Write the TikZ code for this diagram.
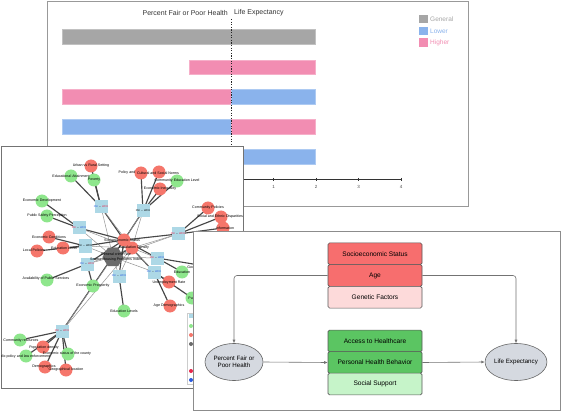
\documentclass[tikz,border=0pt]{standalone}
\usepackage{fontspec}
\setmainfont{Liberation Sans}
\usetikzlibrary{arrows.meta,shapes.geometric}
\definecolor{gbar}{HTML}{A6A6A6}
\definecolor{pbar}{HTML}{F28DB2}
\definecolor{bbar}{HTML}{8AB3EC}
\definecolor{ngreen}{HTML}{8EE68C}
\definecolor{nred}{HTML}{F5766B}
\definecolor{nblue}{HTML}{ADD8E6}
\definecolor{ngray}{HTML}{6B6B6B}
\definecolor{redbox}{HTML}{F76E6E}
\definecolor{pinkbox}{HTML}{FDDADA}
\definecolor{greenbox}{HTML}{5BC562}
\definecolor{lgreenbox}{HTML}{C6F4C9}
\definecolor{ellfill}{HTML}{D5D9E0}
\definecolor{peired}{HTML}{E8264B}
\definecolor{peiblue}{HTML}{2B5BE0}
\begin{document}
\begin{tikzpicture}[x=1pt,y=-1pt,
  panel/.style={draw=black!45, line width=0.8pt, fill=white},
  gnode/.style={circle, fill=ngreen, inner sep=0pt, minimum size=13pt},
  rnode/.style={circle, fill=nred, inner sep=0pt, minimum size=13pt},
  sqnode/.style={rectangle, fill=nblue, inner sep=0pt, minimum size=13pt},
  lab/.style={font=\fontsize{3.6}{4.2}\selectfont, text=black, inner sep=0pt, align=center},
  sqlab/.style={font=\fontsize{2.6}{3}\selectfont, inner sep=0pt},
  edge/.style={draw=black!72, line width=1.15pt},
  thinedge/.style={draw=black!42, line width=0.5pt},
  bartxt/.style={font=\fontsize{7}{8}\selectfont, text=black!80, inner sep=0pt},
  legtxt/.style={font=\fontsize{6.5}{7.5}\selectfont, inner sep=0pt, anchor=west},
  ticklab/.style={font=\fontsize{4.5}{5}\selectfont, text=black!70, inner sep=0pt},
  dagbox/.style={draw=black!65, line width=0.6pt, rounded corners=1.5pt, minimum width=94pt, minimum height=21.7pt, inner sep=0pt, font=\fontsize{6.6}{7.5}\selectfont},
  dagell/.style={ellipse, draw=black!60, line width=0.6pt, fill=ellfill, minimum width=58pt, minimum height=37pt, inner sep=0pt, align=center, font=\fontsize{6.2}{7.2}\selectfont},
  arr/.style={draw=black!55, line width=0.6pt, rounded corners=3pt, -{Latex[length=3.5pt,width=3pt]}}
]
\useasboundingbox (0,0) rectangle (561,411);

% ================= Chart panel =================
\draw[panel, draw=black!40] (47,1) rectangle (468,206);
\node[bartxt, anchor=east] (ttl1) at (228,13) {Percent Fair or Poor Health};
\node[bartxt, anchor=west] (ttl2) at (234,13) {Life Expectancy};
\filldraw[fill=gbar, draw=gbar!70!white, line width=0.4pt] (62,29) rectangle (315,44);
\filldraw[fill=pbar, draw=pbar!70!white, line width=0.4pt] (189,60) rectangle (315,74);
\filldraw[fill=pbar, draw=pbar!70!white, line width=0.4pt] (62,89) rectangle (231,104);
\filldraw[fill=bbar, draw=bbar!70!white, line width=0.4pt] (231,89) rectangle (315,104);
\filldraw[fill=bbar, draw=bbar!70!white, line width=0.4pt] (62,119) rectangle (231,134);
\filldraw[fill=pbar, draw=pbar!70!white, line width=0.4pt] (231,119) rectangle (315,134);
\filldraw[fill=bbar, draw=bbar!70!white, line width=0.4pt] (62,149) rectangle (315,164);
\draw[black!85, line width=0.9pt, dash pattern=on 1.3pt off 1.3pt] (231,19) -- (231,179);
\draw[black!80, line width=0.7pt] (62,179) -- (401,179);
\foreach \k in {1,...,4} {
  \draw[black!80, line width=0.6pt] (231+42.5*\k,178) -- ++(0,3.5);
  \node[ticklab] (tk\k) at (231+42.5*\k,186.5) {\k};
}
\fill[gbar] (419,15) rectangle (428,23);
\fill[bbar] (419,27) rectangle (428,35);
\fill[pbar] (419,38.5) rectangle (428,47);
\node[legtxt, text=gbar] (lg1) at (430,19) {General};
\node[legtxt, text=bbar] (lg2) at (430,31) {Lower};
\node[legtxt, text=pbar] (lg3) at (430,43) {Higher};

% ================= Network panel =================
\draw[panel, draw=black!55, line width=0.9pt] (1,146) rectangle (243,388);
\begin{scope}
\clip (1.5,146.5) rectangle (242.5,387.5);
% hubs
\coordinate (ses) at (124,240);
\coordinate (pd) at (132,248);
\coordinate (gc) at (113,257);
% squares
\coordinate (s1) at (101,207);
\coordinate (s2) at (143,211);
\coordinate (s3) at (79,228);
\coordinate (s4) at (85,246);
\coordinate (s5) at (178,234);
\coordinate (s6) at (87,264);
\coordinate (s7) at (119,276);
\coordinate (s8) at (157,258);
\coordinate (s9) at (154,272);
\coordinate (s10) at (62,331);
% leaves
\coordinate (urban) at (91,166);
\coordinate (eduatt) at (71,176);
\coordinate (poverty) at (94,180);
\coordinate (policy) at (141,173);
\coordinate (cultural) at (159,172);
\coordinate (commedu) at (177,181);
\coordinate (econineq) at (160,189);
\coordinate (econdev) at (42,201);
\coordinate (pubsafe) at (47,216);
\coordinate (econcond) at (49,237);
\coordinate (localpol) at (37,251);
\coordinate (edulevel) at (63,248);
\coordinate (commpol) at (208,208);
\coordinate (socialeth) at (221,217);
\coordinate (info) at (223,228);
\coordinate (availps) at (47,280);
\coordinate (econprosp) at (93,286);
\coordinate (edulevels) at (124,311);
\coordinate (education) at (182,272);
\coordinate (gov) at (205,266);
\coordinate (unemp) at (169,282);
\coordinate (agedem) at (170,306);
\coordinate (pubpol) at (192,298);
\coordinate (commres) at (20,340);
\coordinate (popdens) at (43,347);
\coordinate (publaw) at (26,356);
\coordinate (econstat) at (68,354);
\coordinate (demog) at (45,367);
\coordinate (geoloc) at (66,370);
% edges square -> hubs
\foreach \s in {s1,s2,s3,s4,s5,s6,s7,s8,s9,s10} {
  \draw[edge] (\s) -- (ses);
  \draw[thinedge] (\s) -- (pd);
  \draw[thinedge] (\s) -- (gc);
}
\draw[edge] (ses) -- (pd);
\draw[edge] (pd) -- (gc);
% edges square -> leaves
\foreach \a/\b in {s1/urban,s1/eduatt,s1/poverty,s2/policy,s2/cultural,s2/commedu,s2/econineq,
  s3/econdev,s3/pubsafe,s4/econcond,s4/localpol,s4/edulevel,s5/commpol,s5/socialeth,s5/info,
  s6/availps,s6/econprosp,s7/edulevels,s8/education,s8/gov,s9/unemp,s9/agedem,s9/pubpol,
  s10/commres,s10/popdens,s10/publaw,s10/econstat,s10/demog,s10/geoloc} {
  \draw[edge] (\a) -- (\b);
}
% nodes
\node[sqnode] (n-s1) at (s1) {};
\node[sqnode] (n-s2) at (s2) {};
\node[sqnode] (n-s3) at (s3) {};
\node[sqnode] (n-s4) at (s4) {};
\node[sqnode] (n-s5) at (s5) {};
\node[sqnode] (n-s6) at (s6) {};
\node[sqnode] (n-s7) at (s7) {};
\node[sqnode] (n-s8) at (s8) {};
\node[sqnode] (n-s9) at (s9) {};
\node[sqnode] (n-s10) at (s10) {};
\node[rnode] (n-ses) at (ses) {};
\node[rnode] (n-pd) at (pd) {};
\node[regular polygon, regular polygon sides=6, fill=ngray, inner sep=0pt, minimum size=21pt] (n-gc) at (gc) {};
\foreach \n in {urban,policy,cultural,econineq,econcond,localpol,edulevel,commpol,socialeth,info,unemp,agedem,popdens,demog,geoloc} {
  \node[rnode] (n-\n) at (\n) {};
}
\foreach \n in {eduatt,poverty,commedu,econdev,pubsafe,availps,econprosp,edulevels,education,gov,pubpol,commres,publaw,econstat} {
  \node[gnode] (n-\n) at (\n) {};
}
% square labels
\node[sqlab] (q1) at (s1) {\textcolor{peiblue}{PEI} ↔ \textcolor{peired}{WCR}};
\node[sqlab] (q2) at (s2) {PEI ↔ WCR};
\node[sqlab] (q3) at (s3) {\textcolor{peired}{PEI} ↔ \textcolor{peiblue}{WCR}};
\node[sqlab] (q4) at (s4) {PEI ↔ WCR};
\node[sqlab] (q5) at (s5) {\textcolor{peired}{PEI} ↔ \textcolor{peired}{WCR}};
\node[sqlab] (q6) at (s6) {\textcolor{peiblue}{PEI} ↔ \textcolor{peired}{WCR}};
\node[sqlab] (q7) at (s7) {\textcolor{peiblue}{PEI} ↔ \textcolor{peiblue}{WCR}};
\node[sqlab] (q8) at (s8) {\textcolor{peired}{PEI} ↔ \textcolor{peiblue}{WCR}};
\node[sqlab] (q9) at (s9) {\textcolor{peiblue}{PEI} ↔ \textcolor{peiblue}{WCR}};
\node[sqlab] (q10) at (s10) {\textcolor{peired}{PEI} ↔ \textcolor{peired}{WCR}};
% leaf labels
\node[lab] (l-urban) at (91,166) {Urban vs Rural Setting};
\node[lab] (l-eduatt) at (71,176) {Educational Attainment};
\node[lab] (l-poverty) at (94,180) {Poverty};
\node[lab] (l-policy) at (127,173) {Policy and};
\node[lab] (l-cultural) at (158,173) {Cultural and Social Norms};
\node[lab] (l-commedu) at (177,181) {Community Education Level};
\node[lab] (l-econineq) at (160,189) {Economic Inequality};
\node[lab] (l-econdev) at (42,201) {Economic Development};
\node[lab] (l-pubsafe) at (47,215.5) {Public Safety Perception};
\node[lab] (l-econcond) at (49,237) {Economic Conditions};
\node[lab] (l-localpol) at (34,250) {Local Policies};
\node[lab] (l-edulevel) at (64,248) {Education Level};
\node[lab] (l-commpol) at (208,208) {Community Policies};
\node[lab] (l-socialeth) at (220,217) {Social and Ethnic Disparities};
\node[lab] (l-info) at (225,228) {Information};
\node[lab] (l-ses) at (122,240) {Socioeconomic Status};
\node[lab] (l-pd) at (134,248) {Population Density};
\node[lab] (l-gc) at (116,257) {General crime rate\\Severe Housing Problems Index};
\node[lab] (l-availps) at (46,279) {Availability of Public Services};
\node[lab] (l-econprosp) at (93,286) {Economic Prosperity};
\node[lab] (l-edulevels) at (124,311) {Education Levels};
\node[lab] (l-education) at (182,272) {Education};
\node[lab] (l-gov) at (204,267) {Government Policies};
\node[lab] (l-unemp) at (169,283) {Unemployment Rate};
\node[lab] (l-agedem) at (169,306) {Age Demographics};
\node[lab] (l-pubpol) at (200,298) {Public Policies};
\node[lab] (l-commres) at (21,341) {Community resources};
\node[lab] (l-popdens) at (44,347.5) {Population density};
\node[lab] (l-publaw) at (23,356.5) {Public policy and law enforcement};
\node[lab] (l-econstat) at (67,354) {Economic status of the county};
\node[lab] (l-demog) at (44,367) {Demographics};
\node[lab] (l-geoloc) at (66,370) {Geographical location};
% legend box
\draw[draw=black!20, line width=0.5pt, fill=white] (187.5,313) rectangle (250,384);
\fill[nblue] (189,314) rectangle (193,318);
\fill[ngreen] (191,326) circle (2pt);
\fill[nred] (191,335) circle (2pt);
\fill[ngray] (191,344) circle (2pt);
\fill[peired] (191,371) circle (2pt);
\fill[peiblue] (191,380) circle (2pt);
\end{scope}

% ================= DAG panel =================
\draw[panel, draw=black!45, line width=1pt] (193,232) rectangle (560,410);
\node[dagbox, fill=redbox] (ses2) at (375,253.8) {Socioeconomic Status};
\node[dagbox, fill=redbox] (age) at (375,275.5) {Age};
\node[dagbox, fill=pinkbox] (gen) at (375,297.2) {Genetic Factors};
\node[dagbox, fill=greenbox] (acc) at (375,341) {Access to Healthcare};
\node[dagbox, fill=greenbox] (phb) at (375,362.5) {Personal Health Behavior};
\node[dagbox, fill=lgreenbox] (soc) at (375,384) {Social Support};
\node[dagell] (pf) at (234,362) {Percent Fair or\\Poor Health};
\node[dagell] (le) at (516,362) {Life Expectancy};
\draw[arr] (age.west) -| (pf.north);
\draw[arr] (age.east) -| (le.north);
\draw[arr] (pf.east) -- (phb.west);
\draw[arr] (phb.east) -- (le.west);
\end{tikzpicture}
\end{document}
